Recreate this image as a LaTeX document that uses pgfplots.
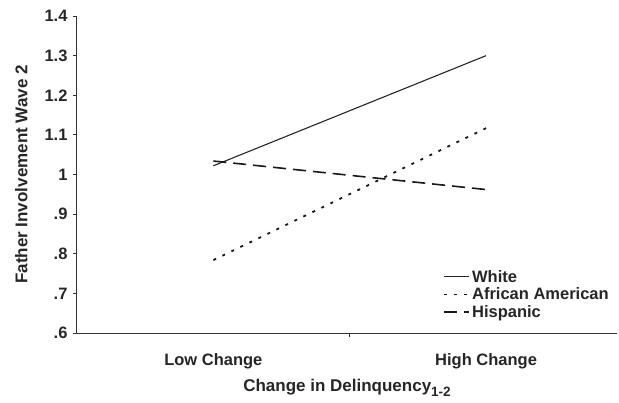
\documentclass[border=0pt]{standalone}
\usepackage{pgfplots}
\pgfplotsset{compat=1.18}
\usepackage{fontspec}
\setmainfont{Liberation Sans}
\begin{document}
\begin{tikzpicture}
\useasboundingbox (-77pt,-69pt) rectangle (542pt,333pt);
\begin{axis}[
  at={(0pt,0pt)}, anchor=south west,
  scale only axis, width=540pt, height=317pt,
  xmin=0.5, xmax=2.48, ymin=0.6, ymax=1.4,
  axis x line*=bottom, axis y line*=left,
  axis line style={-, line width=1pt, black!80},
  tick align=outside, major tick length=4pt,
  tick style={line width=0.8pt, black!80},
  xtick={1.5}, xticklabels={},
  extra x ticks={1,2},
  extra x tick labels={Low Change,High Change},
  extra x tick style={major tick length=0pt},
  ytick={0.6,0.7,0.8,0.9,1.0,1.1,1.2,1.3,1.4},
  yticklabels={.6,.7,.8,.9,1,1.1,1.2,1.3,1.4},
  tick label style={font=\bfseries\fontsize{16.5}{19}\selectfont, text=black!85},
  xticklabel style={yshift=-17pt},
  yticklabel style={xshift=-2pt},
  xlabel={Change in Delinquency\raisebox{-5pt}{\fontsize{13.5}{14}\selectfont 1-2}},
  ylabel={Father Involvement Wave 2},
  label style={font=\bfseries\fontsize{17}{20}\selectfont, text=black!85},
  xlabel style={yshift=1pt},
  ylabel style={yshift=10pt},
  legend style={at={(rel axis cs:0.678,0.205)}, anchor=north west, draw=none, fill=none,
    font=\bfseries\fontsize{16.5}{19}\selectfont, text=black!85, row sep=0pt, inner sep=0pt},
  legend cell align=left,
  legend image code/.code={\draw[#1] (0pt,0pt) -- (25pt,0pt);},
]
\addplot[black!85, line width=1.1pt] coordinates {(1,1.022) (2,1.300)};
\addlegendentry{White}
\addplot[black!90, line width=1.8pt, dash pattern=on 3pt off 7pt] coordinates {(1,0.784) (2,1.117)};
\addlegendentry{African American}
\addplot[black!90, line width=1.6pt, dash pattern=on 13pt off 7pt] coordinates {(1,1.034) (2,0.962)};
\addlegendentry{Hispanic}
\end{axis}
\end{tikzpicture}
\end{document}
